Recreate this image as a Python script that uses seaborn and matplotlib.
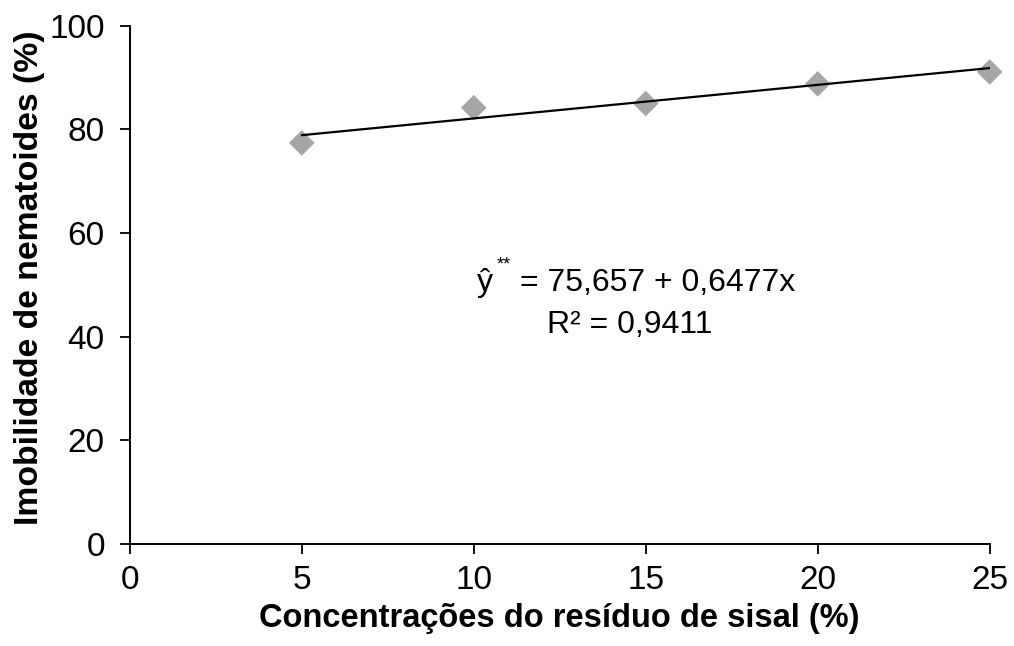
import numpy as np
import pandas as pd
import matplotlib
matplotlib.use("Agg")
import matplotlib.pyplot as plt
import seaborn as sns

# Data
concentracao = [5, 10, 15, 20, 25]
imobilidade = [77.4, 84.2, 85.0, 88.8, 91.1]
intercepto = 75.657
inclinacao = 0.6477
r2 = 0.9411
xticks = [0, 5, 10, 15, 20, 25]
yticks = [0, 20, 40, 60, 80, 100]

sns.set_theme(style="white")
plt.rcParams['font.family'] = ['Liberation Sans', 'DejaVu Sans']
plt.rcParams['text.color'] = 'black'
plt.rcParams['axes.labelcolor'] = 'black'

df = pd.DataFrame({"x": concentracao, "y": imobilidade})
fit_x = np.array([min(concentracao), max(concentracao)])
fit_df = pd.DataFrame({"x": fit_x, "y": intercepto + inclinacao * fit_x})

fig, ax = plt.subplots(figsize=(10.14, 6.46), dpi=100)
fig.subplots_adjust(left=0.128, right=0.976, top=0.960, bottom=0.158)

sns.scatterplot(data=df, x="x", y="y", ax=ax, marker="D", s=170,
                color="#A6A6A6", edgecolor="none", zorder=2, legend=False,
                clip_on=False)
sns.lineplot(data=fit_df, x="x", y="y", ax=ax, color="black", lw=1.6,
             zorder=3, legend=False)

ax.set_xlim(0, 25)
ax.set_ylim(0, 100)
ax.set_xticks(xticks)
ax.set_yticks(yticks)
ax.tick_params(axis="both", direction="out", length=7, width=1.3,
               labelsize=24, colors="black", bottom=True, left=True)
ax.tick_params(axis="y", pad=11)
ax.tick_params(axis="x", pad=8)
for s in ["top", "right"]:
    ax.spines[s].set_visible(False)
for s in ["left", "bottom"]:
    ax.spines[s].set_color("black")
    ax.spines[s].set_linewidth(1.4)

ax.set_xlabel("Concentrações do resíduo de sisal (%)", fontsize=23.5,
              fontweight="bold", va="center", color="black")
ax.xaxis.set_label_coords(0.5, -0.143)
ax.set_ylabel("Imobilidade de nematoides (%)", fontsize=24.3,
              fontweight="bold", va="center", color="black")
ax.yaxis.set_label_coords(-0.1166, 0.514)

# Equation
ax.text(10.1, 50.3, "ŷ", fontsize=23, ha="left", va="center")
ax.text(10.68, 53.8, "**", fontsize=13, ha="left", va="center")
ax.text(11.35, 50.3, "= 75,657 + 0,6477x", fontsize=23, ha="left", va="center")
ax.text(14.55, 42.2, "R² = 0,9411", fontsize=23, ha="center", va="center")

fig.savefig("out.png", dpi=100)
